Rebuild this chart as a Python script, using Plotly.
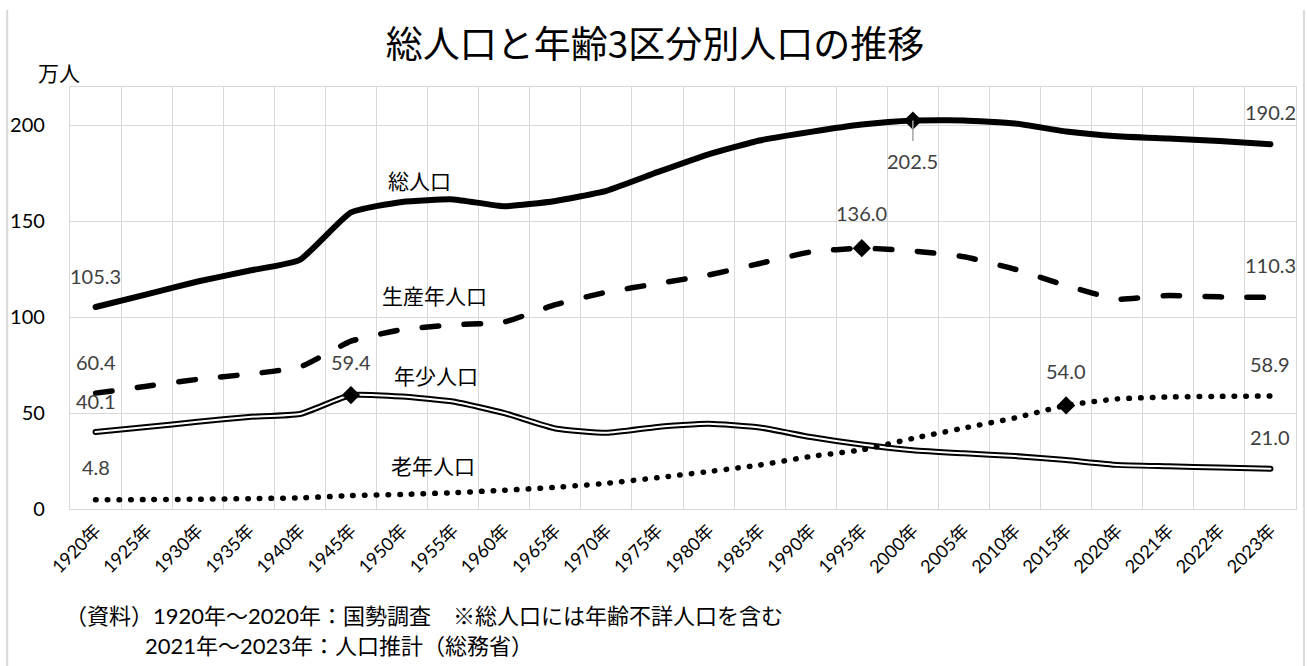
import plotly.graph_objects as go

# ---------------- data ----------------
years = ["1920年", "1925年", "1930年", "1935年", "1940年", "1945年", "1950年", "1955年",
         "1960年", "1965年", "1970年", "1975年", "1980年", "1985年", "1990年", "1995年",
         "2000年", "2005年", "2010年", "2015年", "2020年", "2021年", "2022年", "2023年"]

total = [105.3, 111.9, 118.6, 124.2, 129.9, 154.6, 160.1, 161.4, 157.8, 160.6, 165.9, 175.6,
         184.9, 192.1, 196.6, 200.4, 202.5, 202.6, 201.0, 196.8, 194.3, 193.1, 191.8, 190.2]
working = [60.4, 64.0, 67.6, 70.3, 74.0, 87.5, 93.5, 96.0, 97.5, 106.5, 113.0, 117.5,
           122.0, 128.0, 134.0, 136.0, 134.5, 131.5, 125.0, 116.5, 109.4, 111.3, 110.6, 110.3]
children = [40.1, 42.7, 45.5, 48.0, 49.5, 59.4, 58.6, 56.0, 50.0, 42.0, 39.7, 42.8,
            44.4, 42.5, 37.5, 33.6, 30.6, 29.0, 27.6, 25.5, 23.0, 22.3, 21.6, 21.0]
elderly = [4.8, 4.9, 5.1, 5.4, 5.8, 7.0, 7.6, 8.5, 9.8, 11.3, 13.4, 16.3,
           19.5, 22.9, 27.4, 30.8, 36.8, 42.2, 47.5, 54.0, 57.4, 58.4, 58.7, 58.9]

series_names = ["総人口", "生産年人口", "年少人口", "老年人口"]
peak_idx = {"total": 16, "working": 15, "children": 5, "elderly": 19}

title_text = "総人口と年齢3区分別人口の推移"
unit_text = "万人"
note1 = "（資料）1920年～2020年：国勢調査　※総人口には年齢不詳人口を含む"
note2 = "2021年～2023年：人口推計（総務省）"

# ---------------- layout constants ----------------
W, H = 1307, 666
L, R, T, B = 67, 1297, 87, 509
CJK = "Noto Sans CJK JP"
NUM = "Lato, Noto Sans CJK JP"
GRID = "#d9d9d9"
LBL = "#404040"


def px(xp, yp):
    return (xp - L) / (R - L), (B - yp) / (B - T)


fig = go.Figure()

SM = 0.45
# total population
fig.add_trace(go.Scatter(x=years, y=total, mode="lines",
                         line=dict(color="black", width=6, shape="spline", smoothing=SM)))
# working age (long dash)
fig.add_trace(go.Scatter(x=years, y=working, mode="lines",
                         line=dict(color="black", width=5.5, dash="16.5px,25.5px", shape="spline", smoothing=SM)))
# children (double line)
fig.add_trace(go.Scatter(x=years, y=children, mode="lines",
                         line=dict(color="black", width=6, shape="spline", smoothing=SM)))
fig.add_trace(go.Scatter(x=years, y=children, mode="lines",
                         line=dict(color="white", width=2, shape="spline", smoothing=SM)))
# elderly (round dots)
fig.add_trace(go.Scatter(x=years, y=elderly, mode="lines",
                         line=dict(color="black", width=5.5, dash="0.5px,11.2px", shape="spline", smoothing=SM)))

# peak markers
for key, arr in [("total", total), ("working", working), ("children", children), ("elderly", elderly)]:
    i = peak_idx[key]
    fig.add_trace(go.Scatter(x=[years[i]], y=[arr[i]], mode="markers",
                             marker=dict(symbol="diamond", size=14, color="black")))

ann = []


def val_label(xc, yv, shift=32):
    ann.append(dict(x=xc, y=yv, xref="x", yref="y", text=f"{yv:.1f}", showarrow=False,
                    yshift=shift, font=dict(family=NUM, size=20, color=LBL)))


val_label(years[0], total[0], 31)
val_label(years[0], working[0], 31)
val_label(years[0], children[0], 31)
val_label(years[0], elderly[0], 33)
val_label(years[-1], total[-1])
val_label(years[-1], working[-1])
val_label(years[-1], children[-1])
val_label(years[-1], elderly[-1])
val_label(years[peak_idx["working"]], working[peak_idx["working"]], 35)
val_label(years[peak_idx["children"]], children[peak_idx["children"]], 33)
val_label(years[peak_idx["elderly"]], elderly[peak_idx["elderly"]], 34)
i = peak_idx["total"]
ann.append(dict(x=years[i], y=total[i], xref="x", yref="y", text=f"{total[i]:.1f}",
                showarrow=True, arrowhead=0, arrowwidth=1.5, arrowcolor="#a6a6a6",
                ax=0, ay=40, startstandoff=6, font=dict(family=NUM, size=20, color=LBL)))

# series name labels
for name, (xp, yp) in zip(series_names, [(418, 180), (433, 295), (434, 375), (431, 465)]):
    xx, yy = px(xp, yp)
    ann.append(dict(x=xx, y=yy, xref="paper", yref="paper", text=name, showarrow=False,
                    xanchor="center", yanchor="middle", font=dict(family=CJK, size=21, color="black")))

# unit label
xx, yy = px(56, 72)
ann.append(dict(x=xx, y=yy, xref="paper", yref="paper", text=unit_text, showarrow=False,
                xanchor="center", yanchor="middle", font=dict(family=CJK, size=21, color="black")))

# notes
xx, yy = px(60, 615)
ann.append(dict(x=xx, y=yy, xref="paper", yref="paper", text=note1, showarrow=False,
                xanchor="left", yanchor="middle", font=dict(family=NUM, size=22, color="black")))
xx, yy = px(140, 645)
ann.append(dict(x=xx, y=yy, xref="paper", yref="paper", text=note2, showarrow=False,
                xanchor="left", yanchor="middle", font=dict(family=NUM, size=22, color="black")))

# outer border (left / right)
shapes = []
for xp in (4, 1305):
    x0, y0 = px(xp, 10)
    _, y1 = px(xp, 670)
    shapes.append(dict(type="line", xref="paper", yref="paper", x0=x0, x1=x0, y0=y0, y1=y1,
                       layer="above", line=dict(color=GRID, width=2)))

fig.update_layout(
    width=W, height=H,
    margin=dict(l=L, r=W - R, t=T, b=H - B),
    paper_bgcolor="white", plot_bgcolor="white",
    showlegend=False,
    title=dict(text=title_text, x=655 / W, xref="container", xanchor="center",
               y=1 - 45 / H, yref="container", yanchor="middle",
               font=dict(family=CJK, size=37, color="black")),
    annotations=ann,
    shapes=shapes,
)
fig.update_xaxes(type="category", categoryorder="array", categoryarray=years,
                 tickson="boundaries", showgrid=True, gridcolor=GRID, gridwidth=1.3,
                 showline=True, mirror=True, linecolor=GRID, linewidth=1.3,
                 ticks="", tickangle=-45, tickfont=dict(family=NUM, size=18, color="black"),
                 ticklabelstandoff=3,
                 range=[-0.5, len(years) - 0.5], zeroline=False)
fig.update_yaxes(range=[0, 220], tick0=0, dtick=50, showgrid=True, gridcolor=GRID, gridwidth=1.3,
                 showline=True, mirror=True, linecolor=GRID, linewidth=1.3,
                 ticks="", tickfont=dict(family=NUM, size=20, color="black"),
                 ticklabelstandoff=20, zeroline=False)

post = """
document.body.style.margin = '0';
document.body.style.overflow = 'hidden';
var gd = document.getElementById('{plot_id}');
function roundCaps() {
  gd.querySelectorAll('.scatterlayer .js-line').forEach(function (p) {
    p.style.strokeLinecap = 'round';
  });
}
roundCaps();
if (gd.on) { gd.on('plotly_afterplot', roundCaps); }
setTimeout(roundCaps, 50);
"""

fig.write_html("out.html", post_script=post, config={"displayModeBar": False})
